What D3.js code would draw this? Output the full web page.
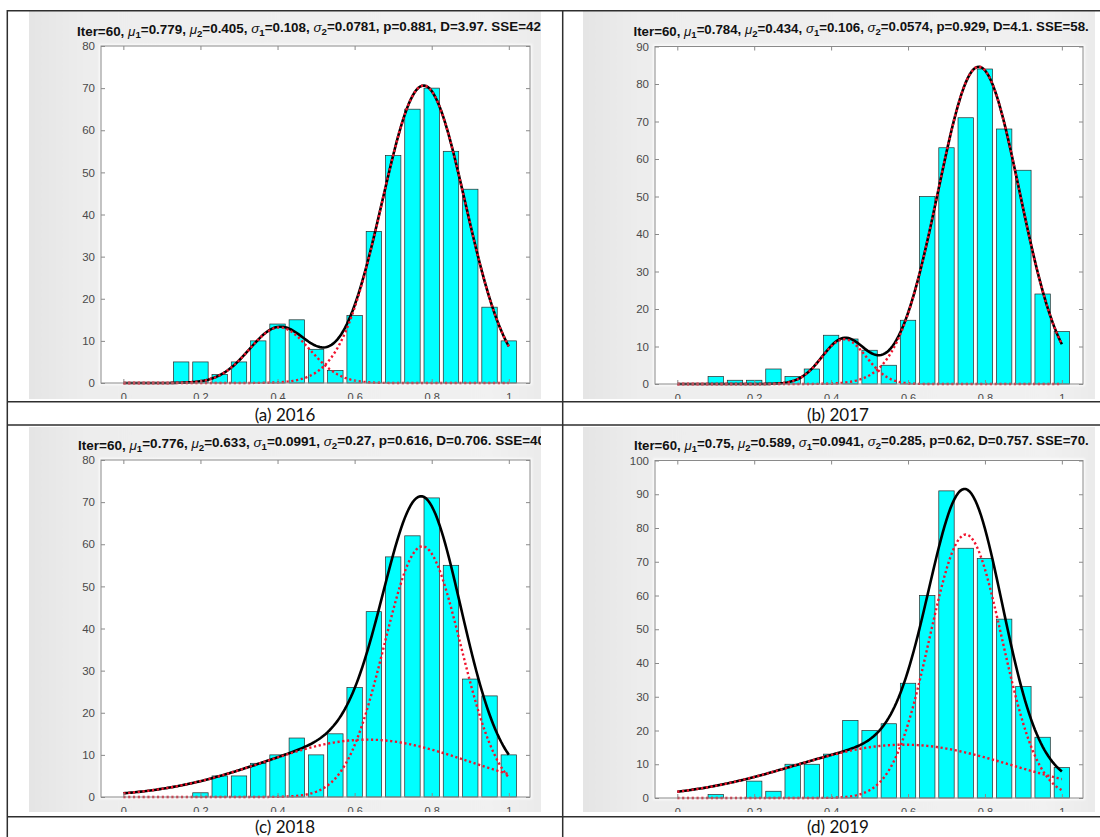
<!DOCTYPE html>
<html>
<head>
<meta charset="utf-8">
<script src="https://cdn.jsdelivr.net/npm/d3@7"></script>
<style>
  html, body { margin: 0; padding: 0; background: #ffffff; }
  svg { display: block; }
</style>
</head>
<body>
<svg id="chart" width="1100" height="837"></svg>
<script>
// ---- data -------------------------------------------------------------
const years = ["2016", "2017", "2018", "2019"];
const panelTags = ["(a)", "(b)", "(c)", "(d)"];

const binCenters = [0.05, 0.10, 0.15, 0.20, 0.25, 0.30, 0.35, 0.40, 0.45, 0.50,
                    0.55, 0.60, 0.65, 0.70, 0.75, 0.80, 0.85, 0.90, 0.95, 1.00];

const counts2016 = [0, 0, 5, 5, 2, 5, 10, 14, 15, 8, 3, 16, 36, 54, 65, 70, 55, 46, 18, 10];
const counts2017 = [0, 2, 1, 1, 4, 2, 4, 13, 12, 9, 5, 17, 50, 63, 71, 84, 68, 57, 24, 14];
const counts2018 = [0, 0, 0, 1, 5, 5, 8, 10, 14, 10, 15, 26, 44, 57, 62, 71, 55, 28, 24, 10];
const counts2019 = [0, 1, 0, 5, 2, 10, 10, 13, 23, 20, 22, 34, 60, 91, 74, 71, 53, 33, 18, 9];

// two-component Gaussian mixture fits
const iterations = 60;
const mu1 = [0.779, 0.784, 0.776, 0.75];
const mu2 = [0.405, 0.434, 0.633, 0.589];
const sigma1 = [0.108, 0.106, 0.0991, 0.0941];
const sigma2 = [0.0781, 0.0574, 0.27, 0.285];
const pWeight = [0.881, 0.929, 0.616, 0.62];
const dStat = ["3.97", "4.1", "0.706", "0.757"];
const sseText = ["42", "58.", "40", "70."];
// area under the fitted density curve (counts x bin width)
const fitScale = [21.7, 24.2, 24.0, 29.7];

const yMax = [80, 90, 80, 100];
const xTickValues = [0, 0.2, 0.4, 0.6, 0.8, 1];
const xTickLabels = ["0", "0.2", "0.4", "0.6", "0.8", "1"];

const allCounts = [counts2016, counts2017, counts2018, counts2019];

// ---- layout -----------------------------------------------------------
const layout = [
  { fig: [29, 11, 512, 388],  axes: [101, 46, 429, 337],     tx: 77,    ty: 35.5,  tw: 464,   cap: [285, 420.5] },
  { fig: [583, 11, 512, 388], axes: [655, 46.5, 428, 337.5], tx: 633.5, ty: 35.5,  tw: 455.5, cap: [838, 420.5] },
  { fig: [29, 427, 512, 385], axes: [101, 460, 429, 337],    tx: 78,    ty: 449.5, tw: 467,   cap: [285, 833] },
  { fig: [583, 427, 512, 385], axes: [655, 460.5, 428, 337.5], tx: 634, ty: 449.5, tw: 455,   cap: [838, 833] }
];
const xDomain = [-0.058, 1.055];

const svg = d3.select("#chart");
const defs = svg.append("defs");

const grad = defs.append("linearGradient").attr("id", "figBg")
  .attr("x1", "0").attr("x2", "1").attr("y1", "0").attr("y2", "0");
grad.append("stop").attr("offset", "0").attr("stop-color", "#e4e4e4");
grad.append("stop").attr("offset", "0.12").attr("stop-color", "#ededed");
grad.append("stop").attr("offset", "0.9").attr("stop-color", "#f1f1f1");
grad.append("stop").attr("offset", "1").attr("stop-color", "#eaeaea");

defs.append("filter").attr("id", "soft")
  .attr("x", "-5%").attr("y", "-5%").attr("width", "110%").attr("height", "110%")
  .append("feGaussianBlur").attr("stdDeviation", 1.3);

const normPdf = (x, m, s) => Math.exp(-0.5 * ((x - m) / s) ** 2) / (s * Math.sqrt(2 * Math.PI));
const sampleX = d3.range(0, 1.0001, 0.005);

layout.forEach((L, i) => {
  const [fx, fy, fw, fh] = L.fig;
  const [ax, ay, aw, ah] = L.axes;

  defs.append("clipPath").attr("id", "clip" + i)
    .append("rect").attr("x", fx).attr("y", fy).attr("width", fw).attr("height", fh);

  const g = svg.append("g").attr("clip-path", `url(#clip${i})`);

  // figure background + white axes area
  const bg = g.append("g").attr("filter", "url(#soft)");
  bg.append("rect").attr("x", fx - 3).attr("y", fy - 3).attr("width", fw + 6).attr("height", fh + 6)
    .attr("fill", "url(#figBg)");
  bg.append("rect").attr("x", ax - 2).attr("y", ay - 2).attr("width", aw + 4).attr("height", ah + 4)
    .attr("fill", "#fbfbfb");
  g.append("rect").attr("x", ax).attr("y", ay).attr("width", aw).attr("height", ah)
    .attr("fill", "#ffffff");

  const x = d3.scaleLinear().domain(xDomain).range([ax, ax + aw]);
  const y = d3.scaleLinear().domain([0, yMax[i]]).range([ay + ah, ay]);
  const yTicks = d3.range(0, yMax[i] + 1, 10);

  // histogram bars
  const bars = binCenters.map((c, k) => ({ c, n: allCounts[i][k] })).filter(d => d.n > 0);
  const bw = x(0.04) - x(0);
  g.append("g").selectAll("rect").data(bars).join("rect")
    .attr("x", d => x(d.c) - bw / 2)
    .attr("width", bw)
    .attr("y", d => y(d.n))
    .attr("height", d => y(0) - y(d.n))
    .attr("fill", "#00ffff")
    .attr("stroke", "#2a2a2a")
    .attr("stroke-width", 0.7);

  // mixture curves
  const comp1 = sampleX.map(v => [v, fitScale[i] * pWeight[i] * normPdf(v, mu1[i], sigma1[i])]);
  const comp2 = sampleX.map(v => [v, fitScale[i] * (1 - pWeight[i]) * normPdf(v, mu2[i], sigma2[i])]);
  const total = comp1.map((d, k) => [d[0], d[1] + comp2[k][1]]);
  const line = d3.line().x(d => x(d[0])).y(d => y(d[1])).curve(d3.curveLinear);

  g.append("path").attr("d", line(total)).attr("fill", "none")
    .attr("stroke", "#000000").attr("stroke-width", 2.6);
  [comp1, comp2].forEach(c => {
    g.append("path").attr("d", line(c)).attr("fill", "none")
      .attr("stroke", "#f0142d").attr("stroke-width", 2.4)
      .attr("stroke-dasharray", "2.2 2.6");
  });

  // axes box and ticks
  g.append("rect").attr("x", ax).attr("y", ay).attr("width", aw).attr("height", ah)
    .attr("fill", "none").attr("stroke", "#8a8a8a").attr("stroke-width", 1);

  const styleAxis = (sel, size) => {
    sel.select(".domain").remove();
    sel.selectAll(".tick line").attr("stroke", "#8a8a8a");
    sel.selectAll(".tick text").attr("fill", "#4a4a4a")
      .style("font-family", "'Liberation Sans', Arial, sans-serif").style("font-size", size + "px");
  };

  g.append("g").attr("transform", `translate(${ax},0)`)
    .call(d3.axisLeft(y).tickValues(yTicks).tickFormat(d3.format("d"))
      .tickSizeInner(-4).tickSizeOuter(0).tickPadding(6))
    .call(styleAxis, 11.5);
  g.append("g").attr("transform", `translate(${ax + aw},0)`)
    .call(d3.axisRight(y).tickValues(yTicks).tickFormat("")
      .tickSizeInner(-4).tickSizeOuter(0))
    .call(styleAxis, 11.5);
  g.append("g").attr("transform", `translate(0,${ay + ah})`)
    .call(d3.axisBottom(x).tickValues(xTickValues).tickFormat((d, k) => xTickLabels[k])
      .tickSizeInner(-4).tickSizeOuter(0).tickPadding(10))
    .call(styleAxis, 11);
  g.append("g").attr("transform", `translate(0,${ay})`)
    .call(d3.axisTop(x).tickValues(xTickValues).tickFormat("")
      .tickSizeInner(-4).tickSizeOuter(0))
    .call(styleAxis, 11);

  // title with Greek symbols and subscripts
  const segs = [
    ["Iter=" + iterations + ", ", "n"],
    ["\u03BC", "g"], ["1", "s"], ["=" + mu1[i] + ", ", "n"],
    ["\u03BC", "g"], ["2", "s"], ["=" + mu2[i] + ", ", "n"],
    ["\u03C3", "g"], ["1", "s"], ["=" + sigma1[i] + ", ", "n"],
    ["\u03C3", "g"], ["2", "s"], ["=" + sigma2[i] + ", p=" + pWeight[i] + ", D=" + dStat[i] + ". SSE=" + sseText[i], "n"]
  ];
  const title = g.append("text").attr("x", L.tx).attr("y", L.ty)
    .attr("fill", "#111")
    .style("font-family", "'Liberation Sans', Arial, sans-serif")
    .style("font-weight", "bold")
    .style("font-size", "12px");
  let shifted = false;
  segs.forEach(([t, kind]) => {
    const ts = title.append("tspan").text(t);
    if (kind === "g") {
      ts.style("font-style", "italic").style("font-weight", "normal");
      if (shifted) { ts.attr("dy", "-0.3em"); shifted = false; }
    } else if (kind === "s") {
      ts.style("font-size", "0.72em").attr("dy", "0.3em");
      shifted = true;
    } else if (shifted) {
      ts.attr("dy", "-0.3em");
      shifted = false;
    }
  });
  const len = title.node().getComputedTextLength();
  if (len > 0) title.style("font-size", (12 * L.tw / len).toFixed(2) + "px");

  // caption
  svg.append("text").attr("x", L.cap[0]).attr("y", L.cap[1])
    .attr("text-anchor", "middle").attr("fill", "#111")
    .style("font-family", "Lato, 'Open Sans', sans-serif").style("font-size", "17px")
    .text(panelTags[i] + " " + years[i]);
});

// table rules
const rules = svg.append("g").attr("stroke", "#2e2e2e").attr("stroke-width", 1.5);
[[7.5, 10.7, 1100, 10.7], [7.5, 401.7, 1100, 401.7], [7.5, 425, 1100, 425], [7.5, 816.7, 1100, 816.7],
 [7.3, 10, 7.3, 837], [562.7, 10, 562.7, 837]].forEach(([x1, y1, x2, y2]) => {
  rules.append("line").attr("x1", x1).attr("y1", y1).attr("x2", x2).attr("y2", y2);
});
</script>
</body>
</html>
